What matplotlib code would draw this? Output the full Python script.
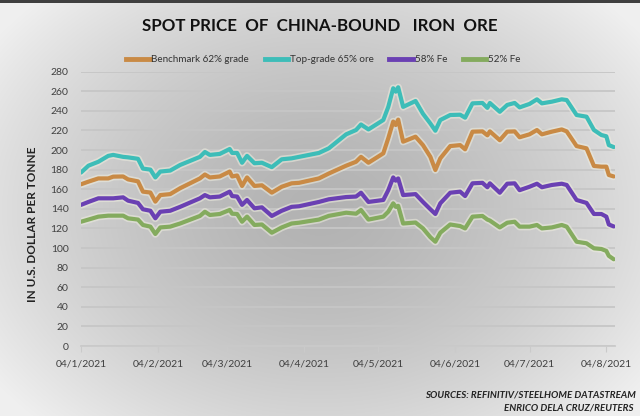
import numpy as np
import pandas as pd
import matplotlib
matplotlib.use("Agg")
import matplotlib.pyplot as plt
import matplotlib.patheffects as pe
from matplotlib.lines import Line2D

dates = ["2021-01-01","2021-01-04","2021-01-08","2021-01-12","2021-01-14","2021-01-18","2021-01-20",
         "2021-01-24","2021-01-26","2021-01-29","2021-01-31","2021-02-02","2021-02-06","2021-02-10",
         "2021-02-18","2021-02-20","2021-02-22","2021-02-26","2021-03-02","2021-03-03","2021-03-05",
         "2021-03-07","2021-03-09","2021-03-12","2021-03-15","2021-03-19","2021-03-23","2021-03-27",
         "2021-03-30","2021-04-07","2021-04-11","2021-04-18","2021-04-22","2021-04-24","2021-04-27",
         "2021-05-03","2021-05-05","2021-05-07","2021-05-08","2021-05-09","2021-05-11","2021-05-16",
         "2021-05-19","2021-05-22","2021-05-24","2021-05-26","2021-05-30","2021-06-03","2021-06-05",
         "2021-06-08","2021-06-12","2021-06-14","2021-06-15","2021-06-19","2021-06-22","2021-06-25",
         "2021-06-27","2021-07-01","2021-07-04","2021-07-06","2021-07-10","2021-07-14","2021-07-16",
         "2021-07-20","2021-07-24","2021-07-27","2021-07-30","2021-08-01","2021-08-02","2021-08-04"]

top65 = [177,184,188,194,195,193,192.5,191,181,180,172,178,179,184.7,193,198,195,196,201,197,197,
         187,194,186.5,187,182.5,190.5,191.5,193,197,201.7,216,220.4,226,221,230.6,244,263,259.5,264,
         244,250,237,227,219.7,230.6,235.7,236,233,247.6,248,243,248,239,246,248,243.5,247,251.7,247.6,
         249.3,251.7,251,235.7,234,220.4,215.3,214,205,203]
bench62 = [165,167.7,171,171,172.8,173,170,168,157.5,156.6,147.3,154,155,161,171,175,172,173,178,173,174,
           163.3,172,163.3,164,156.5,162.5,166,166.5,171,176,184,188,193,187,196.6,212,229,225.5,231,
           208.5,213.6,205,193,179.6,191.5,204,205,200.7,218.7,219,215,219,210,218.7,219,213,216,220.4,216,
           218.7,221,219,204,201.7,183.7,183,183,174.5,173]
fe58 = [144,147,150.7,150.7,150.7,151.7,148.3,146,139.5,138,130.3,137,138,142,150.7,154,151.7,152.5,157.5,153,152.5,
        144,149,140.5,141.5,132.7,138,142,142.6,147,149.7,152,152.5,156.4,147,149,159,172,168.7,171,
        154,155,147,139.5,134.7,145.6,156.4,157.5,153,166,166.5,162,166,156.4,165.6,166,159,162.5,165.6,162,
        164.3,165.6,164.3,149,146,134.7,134.7,132,124,122]
fe52 = [126.8,129,132,133,133,133,130.3,129,123.5,121.8,114.3,121,121.8,125,132.7,137,133.7,134.7,138.8,135,134.7,
        126.8,132,123.5,124,115.6,121,125,125.8,129,132.8,136,135,138.8,129,132,137,145.6,142,143,
        125,126,120,111,106.4,115.6,124,122.4,120,132,132.7,129,128,121,125.8,126.8,121.8,121.8,123.5,120,
        121,123.5,121.8,106.4,104.8,99.7,99,97,92,88.5]

series_names = ["Benchmark 62% grade", "Top-grade 65% ore", "58% Fe", "52% Fe"]
series_vals = [bench62, top65, fe58, fe52]
colors = ["#c98a45", "#3dbdb8", "#6a40b3", "#84ab5e"]

tick_dates = ["2021-01-01","2021-02-01","2021-03-01","2021-04-01","2021-05-01","2021-06-01","2021-07-01","2021-08-01"]
tick_labels = ["04/1/2021","04/2/2021","04/3/2021","04/4/2021","04/5/2021","04/6/2021","04/7/2021","04/8/2021"]
yticks = list(range(0, 281, 20))

FONT = ["Lato", "DejaVu Sans"]
plt.rcParams["font.family"] = FONT

fig = plt.figure(figsize=(6.4, 4.16), dpi=100)

# background gradient
bg = fig.add_axes([0, 0, 1, 1], zorder=-10)
yy, xx = np.mgrid[0:416, 0:640]
r = np.sqrt(((xx - 320) / 400.0) ** 2 + ((yy - 210) / 300.0) ** 2)
val = 0.70 + 0.24 * np.clip(r, 0, 1) ** 1.5
img = np.dstack([val, val, val])
img[0:3, :, :] = 0.25
bg.imshow(img, aspect="auto", extent=[0, 1, 0, 1], origin="upper")
bg.axis("off")

ax = fig.add_axes([81/640, 1 - 346/416, (615-81)/640, (346-71.6)/416])
ax.patch.set_alpha(0)

x = pd.to_datetime(dates)
handles = []
for name, v, c in zip(series_names, series_vals, colors):
    ax.plot(x, v, color=c, lw=3.0, solid_joinstyle="round", solid_capstyle="round",
            path_effects=[pe.Stroke(linewidth=5.4, foreground="#eeeddf", alpha=0.55), pe.Normal()],
            zorder=3)
    handles.append(Line2D([0], [0], color=c, lw=3.5))

ax.set_ylim(0, 280)
ax.set_yticks(yticks)
ax.set_xlim(pd.Timestamp("2021-01-01"), pd.Timestamp("2021-08-04 12:00"))
ax.set_xticks(pd.to_datetime(tick_dates))
ax.set_xticklabels(tick_labels)
ax.grid(axis="y", color="#c6c6c6", lw=1.3)
ax.set_axisbelow(True)
for s in ["top", "right", "left"]:
    ax.spines[s].set_visible(False)
ax.spines["bottom"].set_color("#cacaca")
ax.spines["bottom"].set_linewidth(1.3)
ax.tick_params(axis="y", length=0, pad=9, labelsize=7.5, labelcolor="#404040")
ax.tick_params(axis="x", length=4, color="#cacaca", pad=6, labelsize=7.5, labelcolor="#404040")

fig.text(0.5, 1 - 26/416, "SPOT PRICE  OF  CHINA-BOUND   IRON  ORE", ha="center", va="center",
         fontsize=12.2, fontweight="bold", color="#111111")

fig.legend(handles, series_names, loc="center", bbox_to_anchor=(0.505, 1 - 60/416), ncol=4,
           frameon=False, fontsize=7.1, handlelength=2.4, handletextpad=0.15, columnspacing=1.6,
           labelcolor="#333333")

fig.text(33/640, 1 - 224/416, "IN U.S. DOLLAR PER TONNE", rotation=90, ha="center", va="center",
         fontsize=8.5, fontweight="bold", color="#222222")

fig.text(636/640, 1 - 395/416, "SOURCES: REFINITIV/STEELHOME DATASTREAM", ha="right", va="center",
         fontsize=7, fontweight="bold", fontstyle="italic", color="#222222")
fig.text(634/640, 1 - 408/416, "ENRICO DELA CRUZ/REUTERS", ha="right", va="center",
         fontsize=7, fontweight="bold", fontstyle="italic", color="#222222")

fig.savefig("out.png", dpi=100)
